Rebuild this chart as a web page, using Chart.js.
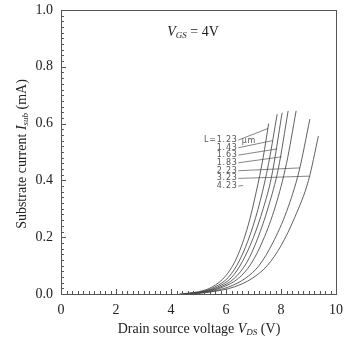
<!DOCTYPE html>
<html><head><meta charset="utf-8">
<script src="https://cdn.jsdelivr.net/npm/chart.js@4/dist/chart.umd.min.js"></script>
<style>html,body{margin:0;padding:0;background:#fff}</style>
</head><body>
<canvas id="c" width="344" height="342" style="display:block;width:344px;height:342px"></canvas>
<script>
// ---- data ----
const seriesNames = ['L=1.23', '1.43', '1.63', '1.83', '2.23', '3.23', '4.23'];
const vds_123 = [4.3, 5.0, 5.5, 6.0, 6.4, 6.8, 7.1, 7.35, 7.55];
const isub_123 = [0, 0.008, 0.025, 0.065, 0.13, 0.24, 0.36, 0.48, 0.60];
const vds_143 = [4.4, 5.1, 5.6, 6.1, 6.5, 6.9, 7.25, 7.55, 7.86];
const isub_143 = [0, 0.008, 0.025, 0.06, 0.12, 0.215, 0.33, 0.46, 0.633];
const vds_163 = [4.45, 5.15, 5.7, 6.2, 6.6, 7.0, 7.35, 7.65, 8.04];
const isub_163 = [0, 0.008, 0.025, 0.058, 0.115, 0.2, 0.30, 0.41, 0.638];
const vds_183 = [4.5, 5.2, 5.8, 6.3, 6.75, 7.15, 7.55, 7.9, 8.26];
const isub_183 = [0, 0.008, 0.025, 0.055, 0.11, 0.195, 0.31, 0.44, 0.645];
const vds_223 = [4.55, 5.3, 5.9, 6.45, 6.9, 7.35, 7.8, 8.2, 8.55];
const isub_223 = [0, 0.008, 0.025, 0.055, 0.105, 0.19, 0.31, 0.46, 0.645];
const vds_323 = [4.6, 5.4, 6.1, 6.7, 7.2, 7.7, 8.2, 8.65, 9.05];
const isub_323 = [0, 0.008, 0.025, 0.055, 0.10, 0.18, 0.29, 0.43, 0.616];
const vds_423 = [4.7, 5.5, 6.3, 6.95, 7.5, 8.0, 8.5, 9.0, 9.36];
const isub_423 = [0, 0.008, 0.025, 0.055, 0.10, 0.17, 0.27, 0.40, 0.556];
const xTicks = [0, 2, 4, 6, 8, 10];
const yTicks = [0.0, 0.2, 0.4, 0.6, 0.8, 1.0];

// annotation anchors (data coordinates): label end / leader ends
const labelY = [0.542, 0.515, 0.489, 0.462, 0.434, 0.407, 0.380];
const labelX = 6.39;
const leaderStartX = 6.45;
const leaderEnd = [[7.53, 0.583], [7.69, 0.540], [7.86, 0.511], [8.02, 0.483], [8.69, 0.444], [9.05, 0.415], [6.62, 0.382]];

const allV = [vds_123, vds_143, vds_163, vds_183, vds_223, vds_323, vds_423];
const allI = [isub_123, isub_143, isub_163, isub_183, isub_223, isub_323, isub_423];

const datasets = [];
allV.forEach((vs, k) => {
  datasets.push({
    label: seriesNames[k],
    data: vs.map((v, i) => ({x: v, y: allI[k][i]})),
    borderColor: '#444', borderWidth: 0.85, pointRadius: 0,
    cubicInterpolationMode: 'monotone', fill: false
  });
});
leaderEnd.forEach((e, k) => {
  datasets.push({
    label: 'leader ' + seriesNames[k],
    data: [{x: leaderStartX, y: labelY[k]}, {x: e[0], y: e[1]}],
    borderColor: '#666', borderWidth: 0.8, pointRadius: 0, fill: false, tension: 0
  });
});

function drawRich(ctx, parts, x, y, align) {
  let w = 0;
  parts.forEach(p => { ctx.font = p.font; w += ctx.measureText(p.t).width; });
  let cx = align === 'center' ? x - w / 2 : (align === 'right' ? x - w : x);
  ctx.textAlign = 'left';
  ctx.textBaseline = 'alphabetic';
  parts.forEach(p => {
    ctx.font = p.font;
    ctx.fillText(p.t, cx, y + (p.dy || 0));
    cx += ctx.measureText(p.t).width;
  });
}

const decor = {
  id: 'decor',
  afterDraw(chart) {
    const ctx = chart.ctx, xs = chart.scales.x, ys = chart.scales.y, a = chart.chartArea;
    ctx.save();
    ctx.strokeStyle = '#555';
    ctx.lineWidth = 1;
    ctx.strokeRect(Math.round(a.left) + 0.5, Math.round(a.top) + 0.5, Math.round(a.right - a.left), Math.round(a.bottom - a.top));
    ctx.beginPath();
    for (let i = 0; i <= 50; i++) {
      const px = Math.round(xs.getPixelForValue(i / 5)) + 0.5;
      const len = (i % 10 === 0) ? 5 : 3;
      ctx.moveTo(px, a.bottom); ctx.lineTo(px, a.bottom - len);
    }
    for (let i = 0; i <= 50; i++) {
      const py = Math.round(ys.getPixelForValue(i / 50)) + 0.5;
      const len = (i % 10 === 0) ? 5 : 3;
      ctx.moveTo(a.left, py); ctx.lineTo(a.left + len, py);
    }
    ctx.stroke();

    // texts
    ctx.fillStyle = '#222';
    const serif = '"Liberation Serif", "Times New Roman", serif';
    drawRich(ctx, [
      {t: 'V', font: 'italic 14px ' + serif},
      {t: 'GS', font: 'italic 9px ' + serif, dy: 2},
      {t: ' = 4V', font: '14px ' + serif}
    ], 193, 36, 'center');
    drawRich(ctx, [
      {t: 'Drain source voltage ', font: '14px ' + serif},
      {t: 'V', font: 'italic 14px ' + serif},
      {t: 'DS', font: 'italic 9px ' + serif, dy: 2},
      {t: ' (V)', font: '14px ' + serif}
    ], 199, 333, 'center');
    ctx.save();
    ctx.translate(26, 154);
    ctx.rotate(-Math.PI / 2);
    drawRich(ctx, [
      {t: 'Substrate current ', font: '14px ' + serif},
      {t: 'I', font: 'italic 14px ' + serif},
      {t: 'sub', font: 'italic 9px ' + serif, dy: 2},
      {t: ' (mA)', font: '14px ' + serif}
    ], 0, 0, 'center');
    ctx.restore();

    // curve labels
    ctx.fillStyle = '#555';
    ctx.font = '8px "DejaVu Sans", sans-serif';
    try { ctx.letterSpacing = '0.8px'; } catch (e) {}
    ctx.textAlign = 'right';
    ctx.textBaseline = 'middle';
    seriesNames.forEach((n, k) => {
      ctx.fillText(n, xs.getPixelForValue(labelX) + 1, ys.getPixelForValue(labelY[k]));
    });
    ctx.textAlign = 'left';
    ctx.fillText('\u03bcm', xs.getPixelForValue(labelX) + 5, ys.getPixelForValue(labelY[0]) + 1);
    ctx.restore();
  }
};

new Chart(document.getElementById('c'), {
  type: 'line',
  data: {datasets},
  options: {
    responsive: false, animation: false, devicePixelRatio: 1,
    layout: {padding: {left: 0, right: 8, top: 10, bottom: 0}},
    plugins: {legend: {display: false}, tooltip: {enabled: false}},
    scales: {
      x: {
        type: 'linear', min: 0, max: 10,
        afterBuildTicks: s => { s.ticks = xTicks.map(v => ({value: v})); },
        afterFit: s => { s.height = 48; s.paddingLeft = 0; s.paddingRight = 0; },
        grid: {display: false, drawTicks: false},
        border: {display: false},
        ticks: {padding: 8, color: '#222', font: {family: '"Liberation Serif", serif', size: 14}, maxRotation: 0,
                callback: v => String(v)}
      },
      y: {
        type: 'linear', min: 0, max: 1,
        afterBuildTicks: s => { s.ticks = yTicks.map(v => ({value: v})); },
        afterFit: s => { s.width = 61; s.paddingTop = 0; s.paddingBottom = 0; },
        grid: {display: false, drawTicks: false},
        border: {display: false},
        ticks: {padding: 8, color: '#222', font: {family: '"Liberation Serif", serif', size: 14},
                callback: v => Number(v).toFixed(1)}
      }
    }
  },
  plugins: [decor]
});
</script>
</body></html>
